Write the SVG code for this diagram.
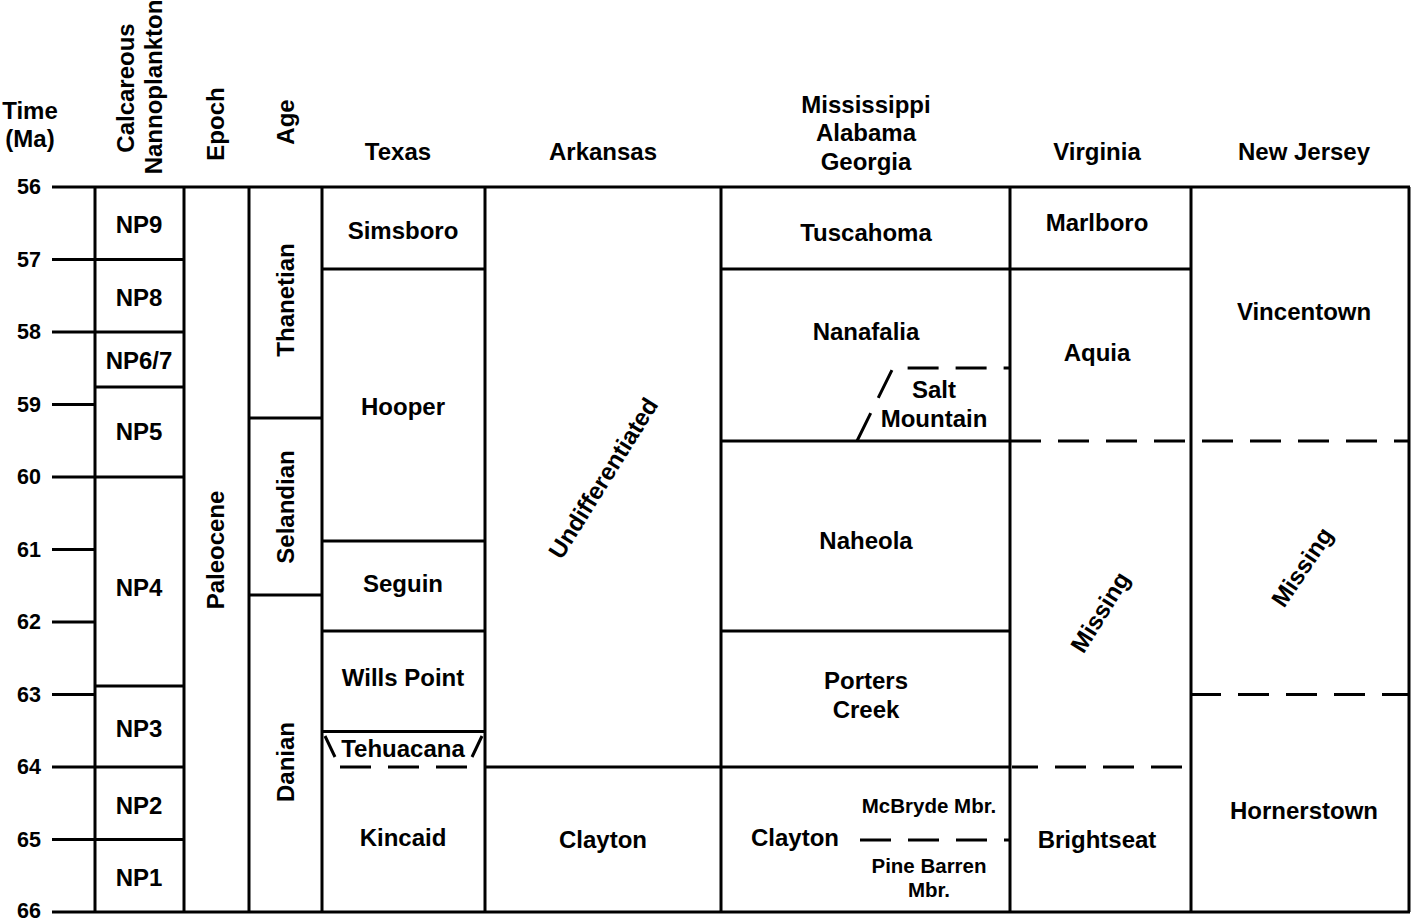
<svg xmlns="http://www.w3.org/2000/svg" width="1413" height="921" viewBox="0 0 1413 921">
<style>
text{font-family:"Liberation Sans",Arial,sans-serif;font-weight:bold;fill:#000;text-anchor:middle;dominant-baseline:central}
.t{font-size:24px}
.s{font-size:20.5px}
.k{font-size:21.5px;text-anchor:end}
.ln{stroke:#000;stroke-width:3;fill:none;stroke-linecap:butt}
.d{stroke:#000;stroke-width:3;fill:none;stroke-dasharray:31 17}
</style>
<rect width="1413" height="921" fill="#fff"/>
<g id="axis">
<text class="t" x="30" y="110">Time</text>
<text class="t" x="30" y="138">(Ma)</text>
<text class="k" x="41" y="187">56</text>
<text class="k" x="41" y="259.5">57</text>
<text class="k" x="41" y="332">58</text>
<text class="k" x="41" y="404.5">59</text>
<text class="k" x="41" y="477">60</text>
<text class="k" x="41" y="549.5">61</text>
<text class="k" x="41" y="622">62</text>
<text class="k" x="41" y="694.5">63</text>
<text class="k" x="41" y="767">64</text>
<text class="k" x="41" y="839.5">65</text>
<text class="k" x="41" y="911">66</text>
<path class="ln" d="M52 259.5H95M52 332H95M52 404.5H95M52 477H95M52 549.5H95M52 622H95M52 694.5H95M52 767H95M52 839.5H95"/>
</g>
<g id="headers">
<text class="t" transform="translate(125,88) rotate(-90)">Calcareous</text>
<text class="t" transform="translate(153,87) rotate(-90)">Nannoplankton</text>
<text class="t" transform="translate(215,124) rotate(-90)">Epoch</text>
<text class="t" transform="translate(285,122) rotate(-90)">Age</text>
<text class="t" x="398" y="151">Texas</text>
<text class="t" x="603" y="151">Arkansas</text>
<text class="t" x="866" y="104">Mississippi</text>
<text class="t" x="866" y="132">Alabama</text>
<text class="t" x="866" y="161">Georgia</text>
<text class="t" x="1097" y="151">Virginia</text>
<text class="t" x="1304" y="151">New Jersey</text>
</g>
<g id="connectors">
<path class="ln" d="M52 187H1410M52 912H1410M95 187V912M184 187V912M249 187V912M322 187V912M485 187V912M721 187V912M1010 187V912M1191 187V912M1409 187V912"/>
<path class="ln" d="M95 259.5H184M95 332H184M95 387H184M95 477H184M95 686H184M95 767H184M95 839.5H184"/>
<path class="ln" d="M249 418H322M249 595H322"/>
<path class="ln" d="M322 269H485M322 541H485M322 631H485M322 731.5H485M325 736L335 757M482 736L472 757"/>
<path class="d" d="M340 767H472"/>
<path class="ln" d="M485 767H1010"/>
<path class="ln" d="M721 269H1191M721 441H1010M721 631H1010"/>
<path class="d" d="M857 441L893 368H1010"/>
<path class="d" d="M860 840H1010"/>
<path class="d" d="M1010 441H1410"/>
<path class="d" d="M1012 767H1184" stroke-dashoffset="5"/>
<path class="d" d="M1190 694.5H1410"/>
</g>
<g id="nannoplankton">
<text class="t" x="139" y="224">NP9</text>
<text class="t" x="139" y="297">NP8</text>
<text class="t" x="139" y="360">NP6/7</text>
<text class="t" x="139" y="431">NP5</text>
<text class="t" x="139" y="587">NP4</text>
<text class="t" x="139" y="728">NP3</text>
<text class="t" x="139" y="805">NP2</text>
<text class="t" x="139" y="877">NP1</text>
</g>
<g id="epoch">
<text class="t" transform="translate(215,550) rotate(-90)">Paleocene</text>
</g>
<g id="age">
<text class="t" transform="translate(285,300) rotate(-90)">Thanetian</text>
<text class="t" transform="translate(285,507) rotate(-90)">Selandian</text>
<text class="t" transform="translate(285,762) rotate(-90)">Danian</text>
</g>
<g id="texas">
<text class="t" x="403" y="230">Simsboro</text>
<text class="t" x="403" y="406">Hooper</text>
<text class="t" x="403" y="583">Seguin</text>
<text class="t" x="403" y="677">Wills Point</text>
<text class="t" x="403" y="748">Tehuacana</text>
<text class="t" x="403" y="837">Kincaid</text>
</g>
<g id="arkansas">
<text class="t" transform="translate(603,478) rotate(-58)">Undifferentiated</text>
<text class="t" x="603" y="839">Clayton</text>
</g>
<g id="mississippi">
<text class="t" x="866" y="232">Tuscahoma</text>
<text class="t" x="866" y="331">Nanafalia</text>
<text class="t" x="934" y="389">Salt</text>
<text class="t" x="934" y="418">Mountain</text>
<text class="t" x="866" y="540">Naheola</text>
<text class="t" x="866" y="680">Porters</text>
<text class="t" x="866" y="709">Creek</text>
<text class="t" x="795" y="837">Clayton</text>
<text class="s" x="929" y="805">McBryde Mbr.</text>
<text class="s" x="929" y="865">Pine Barren</text>
<text class="s" x="929" y="889">Mbr.</text>
</g>
<g id="virginia">
<text class="t" x="1097" y="222">Marlboro</text>
<text class="t" x="1097" y="352">Aquia</text>
<text class="t" transform="translate(1100,612) rotate(-58)">Missing</text>
<text class="t" x="1097" y="839">Brightseat</text>
</g>
<g id="newjersey">
<text class="t" x="1304" y="311">Vincentown</text>
<text class="t" transform="translate(1302,567) rotate(-56)">Missing</text>
<text class="t" x="1304" y="810">Hornerstown</text>
</g>
</svg>
